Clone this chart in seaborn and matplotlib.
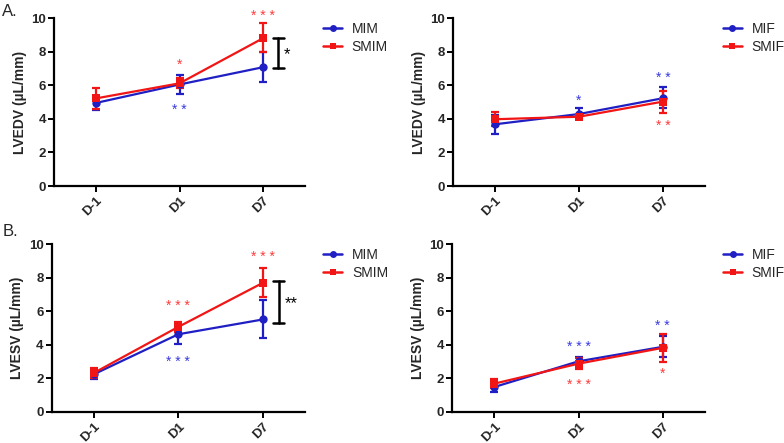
import numpy as np
import pandas as pd
import seaborn as sns
import matplotlib.pyplot as plt
from matplotlib.lines import Line2D

days = ["D-1", "D1", "D7"]

# LVEDV, male groups
mim_edv = [4.95, 6.05, 7.08]
mim_edv_lo = [4.55, 5.50, 6.18]
mim_edv_hi = [5.30, 6.60, 8.01]
smim_edv = [5.22, 6.12, 8.81]
smim_edv_lo = [4.59, 5.85, 7.97]
smim_edv_hi = [5.86, 6.45, 9.70]

# LVEDV, female groups
mif_edv = [3.68, 4.29, 5.23]
mif_edv_lo = [3.12, 4.00, 4.63]
mif_edv_hi = [4.22, 4.62, 5.88]
smif_edv = [3.98, 4.13, 5.03]
smif_edv_lo = [3.55, 3.98, 4.35]
smif_edv_hi = [4.40, 4.30, 5.68]

# LVESV, male groups
mim_esv = [2.25, 4.63, 5.51]
mim_esv_lo = [1.95, 4.02, 4.38]
mim_esv_hi = [2.58, 5.20, 6.66]
smim_esv = [2.33, 5.07, 7.69]
smim_esv_lo = [2.02, 4.78, 6.84]
smim_esv_hi = [2.62, 5.36, 8.59]

# LVESV, female groups
mif_esv = [1.49, 3.02, 3.88]
mif_esv_lo = [1.22, 2.72, 3.28]
mif_esv_hi = [1.78, 3.30, 4.55]
smif_esv = [1.69, 2.88, 3.82]
smif_esv_lo = [1.40, 2.55, 3.00]
smif_esv_hi = [1.98, 3.22, 4.62]

# significance stars: (day index, y, text, colour key)
stars_a = [(1, 7.3, "*", "r"), (1, 4.6, "**", "b"), (2, 10.2, "***", "r")]
stars_b = [(1, 5.15, "*", "b"), (2, 6.5, "**", "b"), (2, 3.65, "**", "r")]
stars_c = [(1, 6.4, "***", "r"), (1, 3.05, "***", "b"), (2, 9.3, "***", "r")]
stars_d = [(1, 3.95, "***", "b"), (1, 1.7, "***", "r"), (2, 5.2, "**", "b"), (2, 2.35, "*", "r")]

# between-group brackets: (x, y low, y high, text)
bracket_a = (2.18, 7.02, 8.81, "*")
bracket_c = (2.19, 5.29, 7.79, "**")

BLUE = "#1f1fc4"
RED = "#f21515"
STAR = {"b": "#3a3ae0", "r": "#ff3b3b"}

sns.set_style("ticks")
plt.rcParams["font.family"] = ["Liberation Sans", "DejaVu Sans"]

fig = plt.figure(figsize=(7.84, 4.43), dpi=100)

panels = [
    ([0.069, 0.580, 0.320, 0.379], "LVEDV (µL/mm)", ("MIM", "SMIM"),
     (mim_edv, mim_edv_lo, mim_edv_hi), (smim_edv, smim_edv_lo, smim_edv_hi), stars_a, bracket_a),
    ([0.578, 0.580, 0.321, 0.379], "LVEDV (µL/mm)", ("MIF", "SMIF"),
     (mif_edv, mif_edv_lo, mif_edv_hi), (smif_edv, smif_edv_lo, smif_edv_hi), stars_b, None),
    ([0.066, 0.070, 0.323, 0.379], "LVESV (µL/mm)", ("MIM", "SMIM"),
     (mim_esv, mim_esv_lo, mim_esv_hi), (smim_esv, smim_esv_lo, smim_esv_hi), stars_c, bracket_c),
    ([0.577, 0.070, 0.322, 0.379], "LVESV (µL/mm)", ("MIF", "SMIF"),
     (mif_esv, mif_esv_lo, mif_esv_hi), (smif_esv, smif_esv_lo, smif_esv_hi), stars_d, None),
]

for rect, ylab, names, g1, g2, stars, bracket in panels:
    ax = fig.add_axes(rect)
    pos = np.arange(len(days))
    df = pd.DataFrame({
        "pos": np.concatenate([pos, pos]),
        "val": g1[0] + g2[0],
        "group": [names[0]] * 3 + [names[1]] * 3,
    })
    sns.lineplot(data=df, x="pos", y="val", hue="group", style="group",
                 markers={names[0]: "o", names[1]: "s"}, dashes=False,
                 palette={names[0]: BLUE, names[1]: RED},
                 linewidth=1.6, markersize=6, markeredgewidth=0,
                 legend=False, ax=ax, zorder=3)
    for g, c in [(g1, BLUE), (g2, RED)]:
        m = np.array(g[0])
        err = [m - np.array(g[1]), np.array(g[2]) - m]
        ax.errorbar(pos, m, yerr=err, fmt="none", ecolor=c, elinewidth=1.6,
                    capsize=3, capthick=1.6, zorder=2)

    for i, y, t, k in stars:
        ax.text(i, y, " ".join(t), color=STAR[k], ha="center", va="center_baseline",
                fontsize=10, clip_on=False)

    if bracket is not None:
        bx, ylo, yhi, t = bracket
        ax.plot([bx, bx], [ylo, yhi], color="black", lw=1.8, clip_on=False)
        for yy in (ylo, yhi):
            ax.plot([bx - 0.065, bx + 0.065], [yy, yy], color="black", lw=1.8, clip_on=False)
        ax.text(bx + 0.07, (ylo + yhi) / 2, t, ha="left", va="center_baseline",
                fontsize=12, color="black")

    ax.set_xlim(-0.5, 2.5)
    ax.set_ylim(0, 10)
    ax.set_yticks([0, 2, 4, 6, 8, 10])
    ax.set_xticks(pos)
    ax.set_xticklabels(days, rotation=45, ha="right", rotation_mode="anchor",
                       fontweight="bold", fontsize=9.5)
    for lab in ax.get_yticklabels():
        lab.set_fontweight("bold")
        lab.set_fontsize(9.5)
    ax.set_xlabel("")
    ax.set_ylabel(ylab, fontsize=10, fontweight="bold", labelpad=3)
    sns.despine(ax=ax)
    for s in ("left", "bottom"):
        ax.spines[s].set_linewidth(1.6)
        ax.spines[s].set_color("black")
    ax.tick_params(width=1.4, length=4, color="black", pad=2)

    handles = [
        Line2D([], [], color=BLUE, marker="o", markersize=5, lw=1.8, markeredgewidth=0),
        Line2D([], [], color=RED, marker="s", markersize=5, lw=1.8, markeredgewidth=0),
    ]
    ax.legend(handles, names, loc="upper left", bbox_to_anchor=(1.072, 0.976),
              frameon=False, fontsize=10, handlelength=1.37, handletextpad=0.7,
              labelspacing=0.3, borderaxespad=0, borderpad=0)

fig.text(0.003, 0.975, "A.", fontsize=12, va="center")
fig.text(0.003, 0.478, "B.", fontsize=12, va="center")

fig.savefig("out.png", dpi=100)
